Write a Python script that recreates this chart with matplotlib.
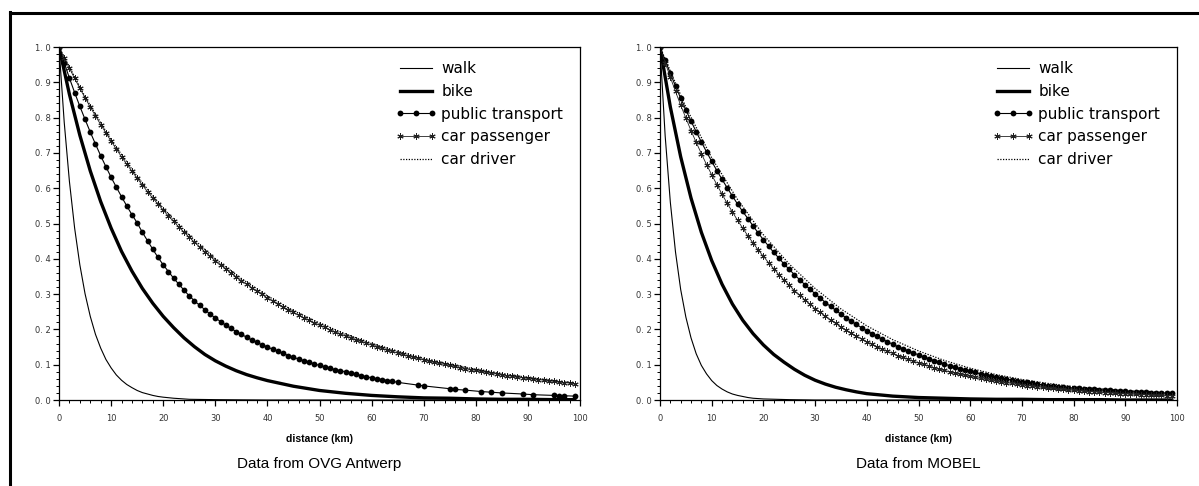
import numpy as np
import matplotlib
matplotlib.use('Agg')
import matplotlib.pyplot as plt
from matplotlib.lines import Line2D
from matplotlib.ticker import MultipleLocator

plt.rcParams['font.family'] = ['Liberation Sans', 'DejaVu Sans']

# ---------------- data ----------------
modes = ['walk', 'bike', 'public transport', 'car passenger', 'car driver']
panel_titles = ['Data from OVG Antwerp', 'Data from MOBEL']

km_1 = list(range(100))

# OVG Antwerp
ovg_walk_km = list(range(21)) + [22, 25, 30, 40, 60, 80, 99]
ovg_walk = [1.000, 0.787, 0.619, 0.487, 0.383, 0.301, 0.237, 0.186, 0.147, 0.115,
            0.091, 0.071, 0.056, 0.044, 0.035, 0.027, 0.021, 0.017, 0.013, 0.010,
            0.008, 0.005, 0.002, 0.001, 0.000, 0.000, 0.000, 0.000]

ovg_bike_km = list(range(0, 42, 2)) + [45, 50, 55, 60, 65, 70, 75, 80, 85, 90, 95, 99]
ovg_bike = [1.000, 0.866, 0.750, 0.649, 0.562, 0.487, 0.421, 0.365, 0.316, 0.274,
            0.237, 0.205, 0.176, 0.151, 0.129, 0.111, 0.096, 0.083, 0.072, 0.063,
            0.055, 0.039, 0.027, 0.019, 0.013, 0.009, 0.006, 0.005, 0.003, 0.002,
            0.002, 0.001, 0.001]

ovg_pt_km = list(range(66)) + [69, 70, 75, 76, 78, 81, 83, 85, 89, 91, 95, 96, 97, 99]
ovg_pt = [1.000, 0.955, 0.912, 0.871, 0.832, 0.795, 0.759, 0.725, 0.692, 0.661,
          0.631, 0.603, 0.576, 0.550, 0.525, 0.502, 0.475, 0.451, 0.427, 0.404,
          0.383, 0.364, 0.345, 0.328, 0.311, 0.295, 0.281, 0.268, 0.256, 0.243,
          0.233, 0.222, 0.212, 0.203, 0.194, 0.186, 0.178, 0.170, 0.163, 0.156,
          0.150, 0.144, 0.138, 0.132, 0.126, 0.121, 0.116, 0.111, 0.107, 0.102,
          0.098, 0.094, 0.090, 0.086, 0.083, 0.080, 0.076, 0.073, 0.069, 0.066,
          0.063, 0.060, 0.058, 0.055, 0.053, 0.050,
          0.042, 0.040, 0.032, 0.030, 0.028, 0.024, 0.022, 0.020, 0.017, 0.015,
          0.013, 0.012, 0.012, 0.011]

ovg_cp = [1.000, 0.970, 0.940, 0.911, 0.883, 0.856, 0.830, 0.805, 0.780, 0.757,
          0.733, 0.711, 0.689, 0.668, 0.648, 0.628, 0.609, 0.590, 0.572, 0.555,
          0.538, 0.521, 0.506, 0.490, 0.475, 0.461, 0.447, 0.433, 0.420, 0.407,
          0.395, 0.383, 0.371, 0.360, 0.349, 0.338, 0.328, 0.318, 0.308, 0.299,
          0.289, 0.281, 0.272, 0.264, 0.256, 0.248, 0.240, 0.233, 0.226, 0.219,
          0.212, 0.206, 0.199, 0.193, 0.187, 0.182, 0.176, 0.171, 0.166, 0.161,
          0.156, 0.151, 0.146, 0.142, 0.138, 0.133, 0.129, 0.125, 0.122, 0.118,
          0.114, 0.111, 0.107, 0.104, 0.101, 0.098, 0.095, 0.092, 0.089, 0.086,
          0.084, 0.081, 0.079, 0.076, 0.074, 0.072, 0.069, 0.067, 0.065, 0.063,
          0.061, 0.060, 0.058, 0.056, 0.054, 0.053, 0.051, 0.049, 0.048, 0.046]

ovg_cd_km = list(range(0, 100, 5)) + [99]
ovg_cd = [1.000, 0.859, 0.737, 0.633, 0.543, 0.467, 0.400, 0.344, 0.295, 0.253,
          0.218, 0.187, 0.160, 0.138, 0.118, 0.102, 0.087, 0.075, 0.064, 0.055,
          0.049]

# MOBEL
mob_walk_km = list(range(19)) + [20, 25, 30, 40, 60, 80, 99]
mob_walk = [1.000, 0.748, 0.560, 0.419, 0.313, 0.235, 0.176, 0.131, 0.098, 0.074,
            0.055, 0.041, 0.031, 0.023, 0.017, 0.013, 0.010, 0.007, 0.005,
            0.003, 0.001, 0.000, 0.000, 0.000, 0.000, 0.000]

mob_bike_km = list(range(0, 42, 2)) + [45, 50, 55, 60, 65, 70, 75, 80, 85, 90, 95, 99]
mob_bike = [1.000, 0.830, 0.689, 0.572, 0.475, 0.395, 0.328, 0.272, 0.226, 0.188,
            0.156, 0.129, 0.107, 0.087, 0.070, 0.056, 0.045, 0.036, 0.029, 0.023,
            0.018, 0.011, 0.007, 0.005, 0.003, 0.002, 0.002, 0.001, 0.001, 0.001,
            0.000, 0.000, 0.000]

mob_pt = [1.000, 0.962, 0.925, 0.889, 0.855, 0.822, 0.790, 0.760, 0.731, 0.703,
          0.676, 0.650, 0.625, 0.601, 0.578, 0.555, 0.534, 0.514, 0.493, 0.473,
          0.454, 0.436, 0.418, 0.402, 0.385, 0.370, 0.355, 0.341, 0.327, 0.314,
          0.301, 0.289, 0.276, 0.265, 0.254, 0.243, 0.233, 0.223, 0.214, 0.205,
          0.196, 0.188, 0.180, 0.172, 0.165, 0.158, 0.151, 0.145, 0.139, 0.133,
          0.128, 0.122, 0.117, 0.111, 0.107, 0.102, 0.097, 0.093, 0.089, 0.085,
          0.081, 0.078, 0.074, 0.071, 0.068, 0.065, 0.062, 0.059, 0.057, 0.054,
          0.052, 0.050, 0.047, 0.045, 0.043, 0.041, 0.040, 0.038, 0.037, 0.035,
          0.034, 0.033, 0.032, 0.031, 0.030, 0.029, 0.028, 0.027, 0.026, 0.026,
          0.025, 0.024, 0.023, 0.023, 0.022, 0.021, 0.021, 0.020, 0.020, 0.019]

mob_cp = [1.000, 0.956, 0.914, 0.874, 0.835, 0.799, 0.763, 0.730, 0.698, 0.667,
          0.638, 0.610, 0.583, 0.557, 0.533, 0.509, 0.487, 0.465, 0.445, 0.425,
          0.407, 0.389, 0.372, 0.355, 0.340, 0.325, 0.310, 0.297, 0.284, 0.271,
          0.259, 0.248, 0.237, 0.226, 0.217, 0.207, 0.198, 0.189, 0.181, 0.173,
          0.165, 0.158, 0.151, 0.144, 0.138, 0.132, 0.126, 0.121, 0.115, 0.110,
          0.105, 0.101, 0.096, 0.092, 0.088, 0.084, 0.080, 0.077, 0.074, 0.070,
          0.067, 0.064, 0.061, 0.059, 0.056, 0.054, 0.051, 0.049, 0.047, 0.045,
          0.043, 0.041, 0.039, 0.037, 0.036, 0.034, 0.033, 0.031, 0.030, 0.029,
          0.027, 0.026, 0.025, 0.024, 0.023, 0.022, 0.021, 0.020, 0.019, 0.018,
          0.017, 0.017, 0.016, 0.015, 0.015, 0.014, 0.013, 0.013, 0.012, 0.012]

mob_cd_km = list(range(0, 100, 5)) + [99]
mob_cd = [1.000, 0.830, 0.686, 0.568, 0.468, 0.385, 0.316, 0.258, 0.210, 0.171,
          0.139, 0.112, 0.090, 0.072, 0.058, 0.047, 0.038, 0.032, 0.027, 0.024,
          0.021]

panels = [
    {'walk': (ovg_walk_km, ovg_walk), 'bike': (ovg_bike_km, ovg_bike),
     'pt': (ovg_pt_km, ovg_pt), 'cp': (km_1, ovg_cp), 'cd': (ovg_cd_km, ovg_cd)},
    {'walk': (mob_walk_km, mob_walk), 'bike': (mob_bike_km, mob_bike),
     'pt': (km_1, mob_pt), 'cp': (km_1, mob_cp), 'cd': (mob_cd_km, mob_cd)},
]

# ---------------- figure ----------------
fig = plt.figure(figsize=(11.99, 4.86), dpi=100)

# outer frame (only top and left edges visible)
fig.add_artist(Line2D([10.5 / 1199, 10.5 / 1199], [0, 1 - 12 / 486],
                      transform=fig.transFigure, color='black', lw=2.2))
fig.add_artist(Line2D([10 / 1199, 1], [1 - 13 / 486, 1 - 13 / 486],
                      transform=fig.transFigure, color='black', lw=2.2))

ax_pos = [[59 / 1199, 1 - 400 / 486, 521 / 1199, 353 / 486],
          [660 / 1199, 1 - 400 / 486, 517 / 1199, 353 / 486]]

star = (6, 2, 0)
wide = ['DejaVu Sans']

for i, d in enumerate(panels):
    ax = fig.add_axes(ax_pos[i])
    ax.plot(*d['walk'], color='black', lw=0.8, label=modes[0])
    ax.plot(*d['bike'], color='black', lw=2.4, label=modes[1])
    ax.plot(*d['pt'], color='black', lw=0.8, marker='o', ms=4.2,
            markeredgewidth=0, label=modes[2])
    ax.plot(*d['cp'], color='#222222', lw=0.6, marker=star, ms=4.5,
            markeredgewidth=0.7, label=modes[3])
    ax.plot(*d['cd'], color='black', lw=0.9, ls=(0, (1, 1.2)), label=modes[4])

    ax.set_xlim(0, 100)
    ax.set_ylim(0, 1.0)
    ax.xaxis.set_major_locator(MultipleLocator(10))
    ax.xaxis.set_minor_locator(MultipleLocator(2))
    ax.yaxis.set_minor_locator(MultipleLocator(0.02))
    yt = np.arange(0, 11) / 10
    ax.set_yticks(yt)
    ax.set_yticklabels(['%d. %d' % (int(v), round(v * 10) % 10) for v in yt])
    ax.tick_params(axis='both', which='major', direction='out', length=4,
                   width=0.9, labelsize=6, labelcolor='#333333', pad=2)
    ax.tick_params(axis='both', which='minor', direction='out', length=2, width=0.7)
    ax.tick_params(axis='x', which='major', pad=6)
    for lab in ax.get_xticklabels() + ax.get_yticklabels():
        lab.set_family(wide)
    for s in ax.spines.values():
        s.set_linewidth(0.9)

    ax.set_xlabel('distance (km)', fontsize=7.5, fontweight='bold', labelpad=8)
    ax.text(0.5, -0.18, panel_titles[i], transform=ax.transAxes, ha='center',
            va='center', fontsize=11)

    leg = ax.legend(loc='upper right', bbox_to_anchor=(0.985, 0.985), frameon=False,
                    prop={'family': wide, 'size': 11}, handlelength=2.7,
                    handletextpad=0.3, labelspacing=0.5, numpoints=3,
                    borderaxespad=0.2)

fig.savefig('out.png', dpi=100)
